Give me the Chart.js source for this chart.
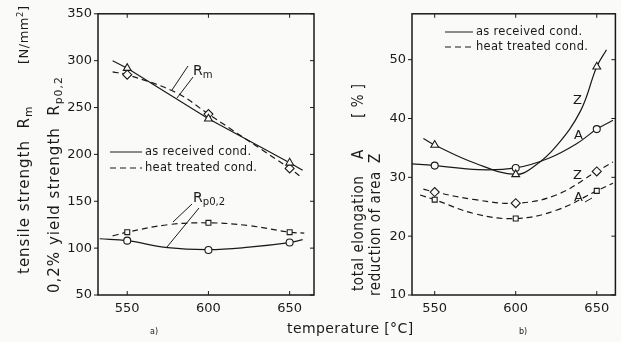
<!DOCTYPE html>
<html>
<head>
<meta charset="utf-8">
<script src="https://cdn.jsdelivr.net/npm/chart.js@4.4.1/dist/chart.umd.min.js"></script>
<style>
  body { margin: 0; background: #fafaf8; }
  #page { position: relative; width: 621px; height: 342px; overflow: hidden; font-family: 'DejaVu Sans', sans-serif; color: #1a1a1a; }
  canvas { position: absolute; top: 0; }
  #chartA { left: 0; }
  #chartB { left: 330px; }
  .t { position: absolute; white-space: nowrap; line-height: 1; }
  .up { transform-origin: left top; transform: rotate(-90deg); }
  .upn { transform-origin: left top; transform: rotate(-90deg) scaleX(0.9); }
  .t sub { font-size: 72%; vertical-align: -0.3em; line-height: 0; }
  .t sup { font-size: 65%; vertical-align: 0.6em; line-height: 0; }
  .leg { font-size: 11.5px; letter-spacing: 0.3px; }
  .ax { font-size: 15px; letter-spacing: 1px; }
  .axn { font-size: 15px; letter-spacing: 0.6px; }
</style>
</head>
<body>
<div id="page">
  <canvas id="chartA" width="330" height="342"></canvas>
  <canvas id="chartB" width="291" height="342"></canvas>

  <div class="t up ax" style="left:17px; top:274px;">tensile strength&nbsp; R<sub>m</sub></div>
  <div class="t up ax" style="left:17px; top:64px; font-size:13px; letter-spacing:0.5px;">[N/mm<sup>2</sup>]</div>
  <div class="t up ax" style="left:47px; top:293px;">0,2% yield strength&nbsp; R<sub>p0,2</sub></div>

  <div class="t upn axn" style="left:351px; top:291px;">total elongation</div>
  <div class="t upn axn" style="left:351px; top:159px;">A</div>
  <div class="t upn axn" style="left:351px; top:118px;">[ % ]</div>
  <div class="t upn axn" style="left:368px; top:296px;">reduction of area</div>
  <div class="t upn axn" style="left:368px; top:163px;">Z</div>

  <div class="t" style="left:287px; top:321px; font-size:14px; letter-spacing:0.4px;">temperature [°C]</div>
  <div class="t" style="left:150px; top:328px; font-size:8px;">a)</div>
  <div class="t" style="left:519px; top:328px; font-size:8px;">b)</div>

  <div class="t leg" style="left:145px; top:146px;">as received cond.</div>
  <div class="t leg" style="left:145px; top:162px;">heat treated cond.</div>
  <div class="t leg" style="left:476px; top:26px;">as received cond.</div>
  <div class="t leg" style="left:476px; top:41px;">heat treated cond.</div>

  <div class="t" style="left:193px; top:63px; font-size:14px;">R<sub>m</sub></div>
  <div class="t" style="left:193px; top:190px; font-size:14px;">R<sub>p0,2</sub></div>

  <div class="t" style="left:573px; top:93px; font-size:13px;">Z</div>
  <div class="t" style="left:574px; top:128px; font-size:13px;">A</div>
  <div class="t" style="left:573px; top:168px; font-size:13px;">Z</div>
  <div class="t" style="left:574px; top:190px; font-size:13px;">A</div>
</div>

<script>
const ink = '#1a1a1a';

// test temperatures and tick labels
const temps = [550, 600, 650];
const tempTicks = [550, 600, 650];
const strengthTicks = [50, 100, 150, 200, 250, 300, 350];
const percentTicks = [10, 20, 30, 40, 50];

// a) strength values at the test temperatures [N/mm2]
const rmReceived = [292, 238, 191];
const rmTreated = [285, 243, 185];
const rpReceived = [108, 98, 106];
const rpTreated = [117, 127, 117];

// b) elongation / reduction of area [%]
const zReceived = [35.5, 30.5, 48.8];
const aReceived = [32, 31.6, 38.2];
const zTreated = [27.5, 25.6, 31];
const aTreated = [26.2, 23, 27.7];

// drawn trend curves as [temperature, value]
const rmReceivedCurve = [[541, 300], [550, 292], [600, 238], [650, 191], [658, 183]];
const rmTreatedCurve = [[541, 288], [550, 285], [580, 266], [600, 243], [650, 185], [657, 176]];
const rpReceivedCurve = [[533, 110], [550, 108], [575, 100.5], [600, 98.4], [625, 101], [650, 105.8], [658, 109]];
const rpTreatedCurve = [[541, 113], [550, 117], [575, 125], [600, 127], [625, 124], [650, 117], [659, 116]];

const zReceivedCurve = [[543, 36.6], [550, 35.5], [575, 32.4], [600, 30.5], [612, 32], [625, 35.3], [640, 41.3], [650, 48.8], [656, 51.7]];
const aReceivedCurve = [[535, 32.3], [550, 32], [577, 31.3], [600, 31.6], [620, 33.2], [638, 35.8], [650, 38.2], [660, 39.7]];
const zTreatedCurve = [[543, 28], [550, 27.5], [575, 26.2], [600, 25.6], [625, 27], [650, 31], [660, 32.6]];
const aTreatedCurve = [[541, 27], [550, 26.2], [575, 23.8], [600, 23], [625, 24.4], [650, 27.7], [660, 29]];

const pts = vals => vals.map((v, i) => ({ x: temps[i], y: v }));
const xy = arr => arr.map(p => ({ x: p[0], y: p[1] }));

function curve(arr, dashed, smooth) {
  return {
    data: xy(arr), showLine: true, pointRadius: 0, borderColor: ink, borderWidth: 1.2,
    borderDash: dashed ? [6, 4] : [], tension: smooth ? 0.4 : 0, order: 2
  };
}

function marks(vals, style, r) {
  return {
    data: pts(vals), showLine: false, pointStyle: style, pointRadius: r || 4,
    backgroundColor: '#fafaf8', borderColor: ink, borderWidth: 1.1, order: 1
  };
}

// frame with small ticks, legend samples and leader lines
const framePlugin = {
  id: 'frame',
  afterDatasetsDraw(chart, args, opts) {
    const { ctx, chartArea: a, scales: { x, y } } = chart;
    ctx.save();
    ctx.strokeStyle = ink;
    ctx.lineWidth = 1.5;
    ctx.strokeRect(a.left, a.top, a.right - a.left, a.bottom - a.top);
    ctx.lineWidth = 1;
    ctx.beginPath();
    x.ticks.forEach(t => {
      const px = x.getPixelForValue(t.value);
      ctx.moveTo(px, a.bottom); ctx.lineTo(px, a.bottom - 4);
      ctx.moveTo(px, a.top); ctx.lineTo(px, a.top + 4);
    });
    y.ticks.forEach(t => {
      const py = y.getPixelForValue(t.value);
      ctx.moveTo(a.left - 4, py); ctx.lineTo(a.left, py);
      ctx.moveTo(a.right, py); ctx.lineTo(a.right - 4, py);
    });
    ctx.stroke();
    (opts.lines || []).forEach(l => {
      ctx.setLineDash(l[4] ? [6, 4] : []);
      ctx.beginPath();
      ctx.moveTo(l[0], l[1]); ctx.lineTo(l[2], l[3]);
      ctx.stroke();
    });
    ctx.restore();
  }
};

function scales(xMin, xMax, yMin, yMax, yTicks, yWidth) {
  const tickFont = { family: 'DejaVu Sans', size: 13 };
  return {
    x: {
      type: 'linear', min: xMin, max: xMax,
      afterBuildTicks: s => { s.ticks = tempTicks.map(v => ({ value: v })); },
      afterFit: s => { s.height = 47; },
      grid: { display: false, drawTicks: false }, border: { display: false },
      ticks: { color: ink, font: tickFont, padding: 6 }
    },
    y: {
      type: 'linear', min: yMin, max: yMax,
      afterBuildTicks: s => { s.ticks = yTicks.map(v => ({ value: v })); },
      afterFit: s => { s.width = yWidth; },
      grid: { display: false, drawTicks: false }, border: { display: false },
      ticks: { color: ink, font: tickFont, padding: 6 }
    }
  };
}

new Chart(document.getElementById('chartA'), {
  type: 'scatter',
  data: {
    datasets: [
      marks(rmReceived, 'triangle', 4.5),
      marks(rmTreated, 'rectRot', 4.5),
      marks(rpReceived, 'circle', 3.5),
      marks(rpTreated, 'rect', 3.5),
      curve(rmReceivedCurve, false, false),
      curve(rmTreatedCurve, true, true),
      curve(rpReceivedCurve, false, true),
      curve(rpTreatedCurve, true, true)
    ]
  },
  options: {
    responsive: false, animation: false,
    layout: { padding: { top: 10, right: 16, left: 0, bottom: 0 } },
    plugins: {
      legend: { display: false }, tooltip: { enabled: false },
      frame: { lines: [
        [110, 152, 142, 152, false], [110, 168, 142, 168, true],
        [188, 66, 172, 90], [193, 77, 177, 98],
        [192, 204, 173, 222], [199, 208, 167, 247]
      ] }
    },
    scales: scales(532, 665, 50, 350, strengthTicks, 98)
  },
  plugins: [framePlugin]
});

new Chart(document.getElementById('chartB'), {
  type: 'scatter',
  data: {
    datasets: [
      marks(zReceived, 'triangle', 4.5),
      marks(aReceived, 'circle', 3.5),
      marks(zTreated, 'rectRot', 4.5),
      marks(aTreated, 'rect', 3.5),
      curve(zReceivedCurve, false, true),
      curve(aReceivedCurve, false, true),
      curve(zTreatedCurve, true, true),
      curve(aTreatedCurve, true, true)
    ]
  },
  options: {
    responsive: false, animation: false,
    layout: { padding: { top: 8, right: 2, left: 0, bottom: 0 } },
    plugins: {
      legend: { display: false }, tooltip: { enabled: false },
      frame: { lines: [
        [115, 32, 143, 32, false], [115, 47, 143, 47, true],
        [255, 202, 262, 198]
      ] }
    },
    scales: scales(536, 661.5, 10, 57.8, percentTicks, 82)
  },
  plugins: [framePlugin]
});
</script>
</body>
</html>
